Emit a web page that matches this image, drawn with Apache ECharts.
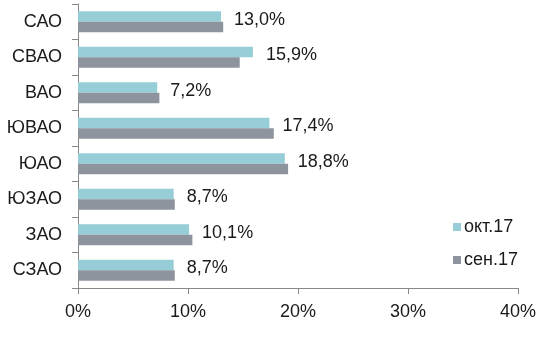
<!DOCTYPE html>
<html><head><meta charset="utf-8">
<script src="https://cdn.jsdelivr.net/npm/echarts@6/dist/echarts.min.js"></script>
<style>html,body{margin:0;padding:0;background:#fff}#c{width:550px;height:363px}</style>
</head><body><div id="c"></div>
<script>
var categories = ['САО','СВАО','ВАО','ЮВАО','ЮАО','ЮЗАО','ЗАО','СЗАО'];
var octValues = [13.0, 15.9, 7.2, 17.4, 18.8, 8.7, 10.1, 8.7];
var sepValues = [13.2, 14.7, 7.4, 17.8, 19.1, 8.8, 10.4, 8.8];
var seriesNames = ['окт.17','сен.17'];
var xTicks = [0, 10, 20, 30, 40];

var font = "'Liberation Sans', Arial, sans-serif";
var chart = echarts.init(document.getElementById('c'));
chart.setOption({
  animation: false,
  textStyle: {fontFamily: font},
  grid: {left: 78, right: 32, top: 4, bottom: 75, containLabel: false},
  legend: {
    orient: 'vertical', left: 448, top: 213, itemWidth: 8, itemHeight: 8, itemGap: 15,
    icon: 'rect',
    textStyle: {fontFamily: font, fontSize: 18, color: '#1a1a1a', padding: [0,0,0,-2]},
    data: seriesNames
  },
  xAxis: {
    type: 'value', min: xTicks[0], max: xTicks[xTicks.length-1], interval: 10,
    axisLine: {show: true, lineStyle: {color: '#888888'}},
    axisTick: {show: true, length: 6, lineStyle: {color: '#888888'}},
    splitLine: {show: false},
    axisLabel: {fontFamily: font, fontSize: 18, color: '#1a1a1a', margin: 15, formatter: function(v){return v+'%';}}
  },
  yAxis: {
    type: 'category', data: categories, inverse: true,
    axisLine: {show: true, lineStyle: {color: '#888888'}},
    axisTick: {show: true, length: 6, lineStyle: {color: '#888888'}},
    axisLabel: {fontFamily: font, fontSize: 18, color: '#1a1a1a', margin: 16}
  },
  series: [
    {name: seriesNames[0], type: 'bar', data: octValues, barWidth: 10.4, barGap: '0%',
     itemStyle: {color: '#96CDD6'},
     label: {show: true, position: 'right', distance: 13, offset: [0, 3], fontFamily: font, fontSize: 18, color: '#1a1a1a',
       formatter: function(p){return p.value.toFixed(1).replace('.', ',') + '%';}}},
    {name: seriesNames[1], type: 'bar', data: sepValues, barWidth: 10.4, barGap: '0%',
     itemStyle: {color: '#8E949D'}}
  ]
});
</script></body></html>
